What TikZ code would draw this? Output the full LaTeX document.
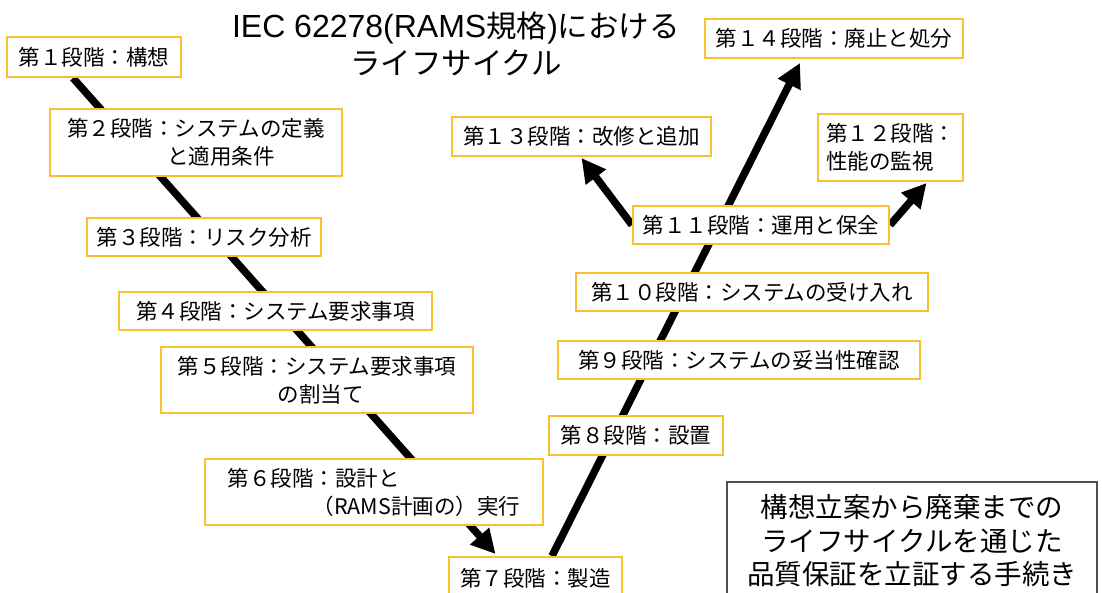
\documentclass[tikz,border=0pt]{standalone}
\usepackage{fontspec}
\setmainfont{Noto Sans CJK JP}
\newfontfamily\latfont{Liberation Sans}
\usetikzlibrary{arrows.meta,backgrounds}
\definecolor{boxgold}{RGB}{250,192,50}
\definecolor{notegray}{RGB}{80,80,80}
\begin{document}
\begin{tikzpicture}[x=1pt,y=-1pt,
  stage/.style={draw=boxgold,line width=2pt,fill=white,align=left,inner sep=0pt,
    font=\fontsize{21.5}{28}\selectfont},
  flow/.style={line width=7.5pt,-{Triangle[length=24pt,width=24pt]}},
  note/.style={draw=notegray,line width=1.5pt,fill=white,align=center,inner sep=0pt,
    font=\fontsize{27.5}{33.5}\selectfont},
  title/.style={align=center,inner sep=0pt,font=\fontsize{30.5}{37}\selectfont}]
\clip (0,0) rectangle (1102,592);
\useasboundingbox (0,0) rectangle (1102,592);

\node[title] (ttl) at (456,43.5) {{\latfont\fontsize{32}{37}\selectfont IEC 62278(RAMS}規格{\latfont\fontsize{32}{37}\selectfont )}における\\ライフサイクル};

\node[stage,minimum width=174pt,minimum height=40pt] (b1) at (94,57) {第１段階：構想};
\node[stage,minimum width=292pt,minimum height=67pt] (b2) at (196,142.5) {第２段階：システムの定義\\\hspace*{100pt}と適用条件};
\node[stage,minimum width=234pt,minimum height=38pt] (b3) at (204,237) {第３段階：リスク分析};
\node[stage,minimum width=313pt,minimum height=38pt] (b4) at (275.5,311) {第４段階：システム要求事項};
\node[stage,minimum width=312pt,minimum height=66pt] (b5) at (317,380) {第５段階：システム要求事項\\\hspace*{100pt}の割当て};
\node[stage,minimum width=338pt,minimum height=66pt] (b6) at (374,492) {第６段階：設計と\\\hspace*{85pt}（RAMS計画の）実行};
\node[stage,minimum width=173pt,minimum height=42pt] (b7) at (535.5,578) {第７段階：製造};
\node[stage,minimum width=174pt,minimum height=39pt] (b8) at (636,435) {第８段階：設置};
\node[stage,minimum width=362pt,minimum height=38pt] (b9) at (739,360) {第９段階：システムの妥当性確認};
\node[stage,minimum width=352pt,minimum height=38pt] (b10) at (752,292) {第１０段階：システムの受け入れ};
\node[stage,minimum width=256pt,minimum height=38pt] (b11) at (761,225) {第１１段階：運用と保全};
\node[stage,minimum width=145pt,minimum height=67pt] (b12) at (890.5,147.5) {第１２段階：\\性能の監視};
\node[stage,minimum width=259pt,minimum height=39pt] (b13) at (581.5,136.5) {第１３段階：改修と追加};
\node[stage,minimum width=258pt,minimum height=39pt] (b14) at (834,38.5) {第１４段階：廃止と処分};

\node[note,minimum width=370pt,minimum height=118pt] (nt) at (912,541) {構想立案から廃棄までの\\ライフサイクルを通じた\\品質保証を立証する手続き};

\begin{pgfonlayer}{background}
\fill[white] (0,0) rectangle (1102,592);
\draw[flow] ([xshift=-21pt]b1.south) -- ([xshift=-40pt,yshift=2pt]b7.north);
\draw[flow] ([xshift=16.5pt]b7.north) -- ([xshift=-34pt,yshift=-4pt]b14.south);
\draw[flow] (b11.west) -- ([yshift=-1pt]b13.south);
\draw[flow] (b11.east) -- ([xshift=36pt,yshift=-1pt]b12.south);
\end{pgfonlayer}
\end{tikzpicture}
\end{document}
